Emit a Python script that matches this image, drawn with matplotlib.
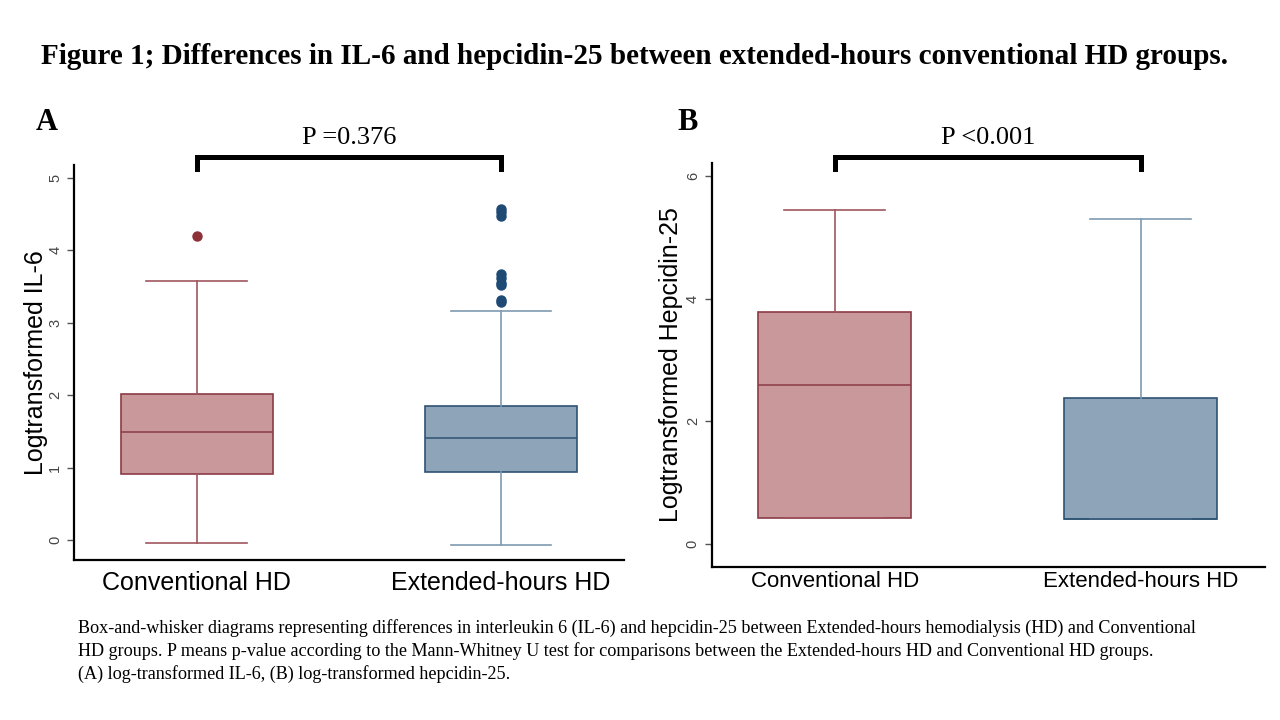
# box-and-whisker figure: IL-6 and hepcidin-25, extended-hours vs conventional HD
import matplotlib.pyplot as plt

groups = ['Conventional HD', 'Extended-hours HD']

# panel A: log-transformed IL-6
il6_q1 = [0.91, 0.94]
il6_med = [1.49, 1.41]
il6_q3 = [2.02, 1.85]
il6_lo = [-0.04, -0.06]
il6_hi = [3.58, 3.16]
il6_out = [[4.20], [4.57, 4.53, 4.47, 3.67, 3.62, 3.55, 3.52, 3.32, 3.29]]
il6_ticks = [0, 1, 2, 3, 4, 5]
il6_p = 'P =0.376'

# panel B: log-transformed hepcidin-25
hep_q1 = [0.42, 0.41]
hep_med = [2.59, 0.41]
hep_q3 = [3.78, 2.38]
hep_lo = [0.42, 0.41]
hep_hi = [5.45, 5.30]
hep_out = [[], []]
hep_ticks = [0, 2, 4, 6]
hep_p = 'P <0.001'

fills = ['#c8989b', '#8ea5b9']
edges = ['#8c3b45', '#2f5373']
whisk = ['#a0565e', '#7f9ab0']
dots = ['#8e3038', '#1e4a74']

serif = 'Liberation Serif'
sans = 'Liberation Sans'

fig = plt.figure(figsize=(12.8, 7.2), dpi=100)


def panel(rect, q1, med, q3, lo, hi, out, ticks, ylim, ylabel, pval, tick_fs,
          bracket, labelpad, xpad):
    ax = fig.add_axes(rect)
    for i in range(2):
        st = [dict(med=med[i], q1=q1[i], q3=q3[i], whislo=lo[i], whishi=hi[i], fliers=out[i])]
        ax.bxp(st, positions=[i + 1], widths=0.5, capwidths=0.33, patch_artist=True,
               boxprops=dict(facecolor=fills[i], edgecolor=edges[i], linewidth=1.2),
               medianprops=dict(color=edges[i], linewidth=1.1),
               whiskerprops=dict(color=whisk[i], linewidth=1.2),
               capprops=dict(color=whisk[i], linewidth=1.2),
               flierprops=dict(marker='o', markerfacecolor=dots[i], markeredgecolor=dots[i], markersize=6.5))
    ax.set_xlim(0.597, 2.405)
    ax.set_ylim(ylim)
    ax.set_xticks([1, 2])
    ax.set_xticklabels(groups, fontsize=tick_fs, family=sans)
    ax.set_yticks(ticks)
    ax.set_yticklabels([str(t) for t in ticks], rotation=90, va='center', fontsize=10.5, color='#444444', family=sans)
    ax.tick_params(axis='y', length=5, color='#555555', width=1)
    ax.tick_params(axis='x', length=0, pad=xpad)
    ax.set_ylabel(ylabel, fontsize=18, family=sans, labelpad=labelpad)
    for s in ['top', 'right']:
        ax.spines[s].set_visible(False)
    for s in ['left', 'bottom']:
        ax.spines[s].set_linewidth(1.6)
    # significance bracket (bar, leg end, text centre in data units)
    ybar, yleg, ytxt = bracket
    ax.plot([1, 1, 2, 2], [yleg, ybar, ybar, yleg], color='black', linewidth=3.6, clip_on=False,
            solid_joinstyle='miter')
    ax.text(1.5, ytxt, pval, ha='center', va='center', fontsize=19, family=serif)
    return ax


panel([0.0578, 0.222, 0.430, 0.549], il6_q1, il6_med, il6_q3, il6_lo, il6_hi, il6_out, il6_ticks,
      (-0.276, 5.18), 'Logtransformed IL-6', il6_p, 18, (5.29, 5.12, 5.55), 0, 8)
panel([0.556, 0.2125, 0.432, 0.5615], hep_q1, hep_med, hep_q3, hep_lo, hep_hi, hep_out, hep_ticks,
      (-0.375, 6.22), 'Logtransformed Hepcidin-25', hep_p, 16, (6.31, 6.12, 6.62), 2, 3)

fig.text(0.028, 1 - 122 / 720, 'A', ha='left', va='center', fontsize=22, fontweight='bold', family=serif)
fig.text(0.529, 1 - 122 / 720, 'B', ha='left', va='center', fontsize=22, fontweight='bold', family=serif)

fig.text(0.496, 1 - 57 / 720, 'Figure 1; Differences in IL-6 and hepcidin-25 between extended-hours conventional HD groups.',
         ha='center', va='center', fontsize=21, fontweight='bold', family=serif)

caption = ['Box-and-whisker diagrams representing differences in interleukin 6 (IL-6) and hepcidin-25 between Extended-hours hemodialysis (HD) and Conventional',
           'HD groups. P means p-value according to the Mann-Whitney U test for comparisons between the Extended-hours HD and Conventional HD groups.',
           '(A) log-transformed IL-6, (B) log-transformed hepcidin-25.']
for k, line in enumerate(caption):
    fig.text(0.061, 1 - (628 + 23 * k) / 720, line, ha='left', va='center', fontsize=13.1, family=serif)

fig.savefig('out.png', dpi=100)
